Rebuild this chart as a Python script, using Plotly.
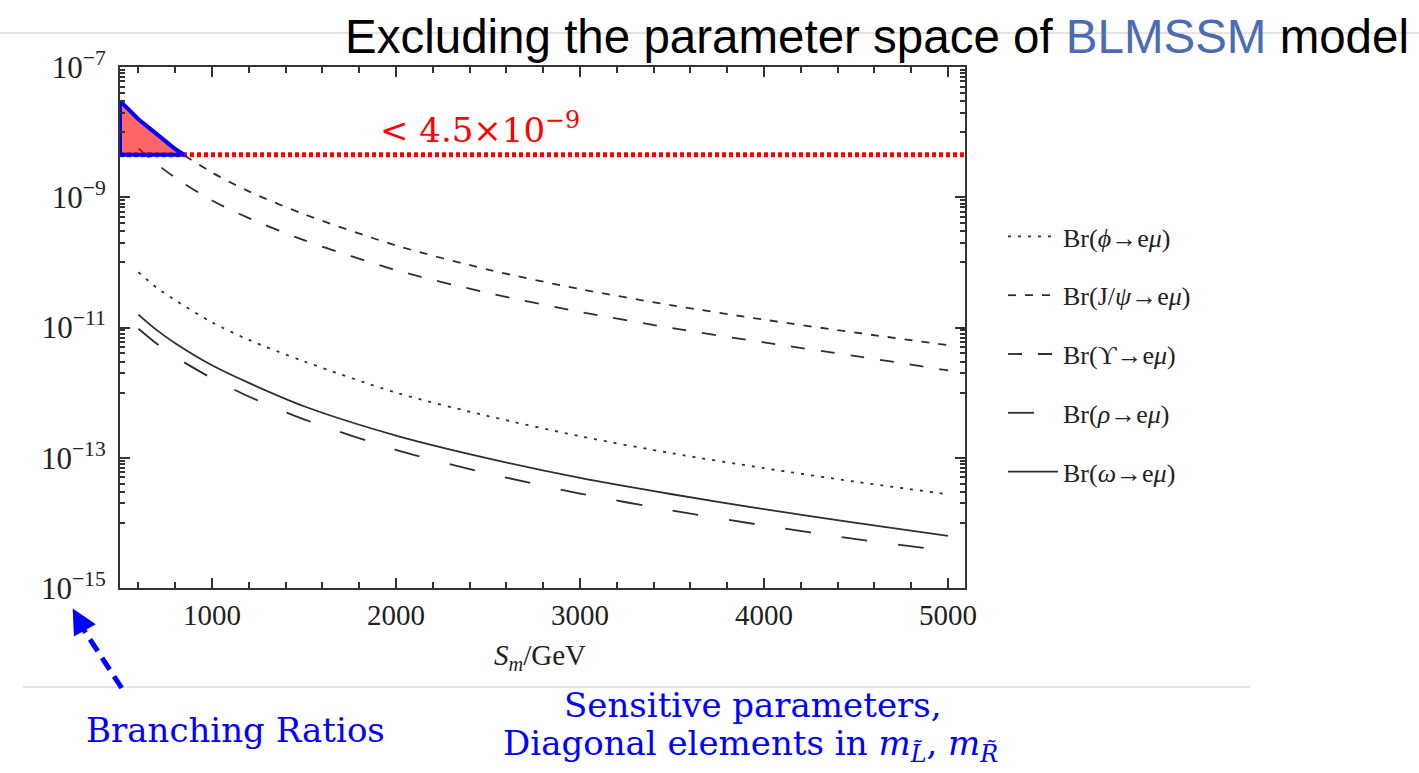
import numpy as np
import plotly.graph_objects as go

# Slepton soft mass S_m in GeV
s_m = [600, 700, 800, 1000, 1200, 1500, 2000, 2500, 3000, 3500, 4000, 4500, 5000]
# the J/psi curve also runs along the excluded strip down to 500 GeV
s_m_jpsi = [500, 600, 700, 800, 1000, 1200, 1500, 2000, 2500, 3000, 3500, 4000, 4500, 5000]

# Branching ratios of V -> e mu
br_phi = [7.08e-11, 4.07e-11, 2.63e-11, 1.20e-11, 6.46e-12, 3.02e-12, 1.00e-12,
          4.37e-13, 2.14e-13, 1.17e-13, 6.92e-14, 4.27e-14, 2.75e-14]
br_jpsi = [3.02e-8, 1.58e-8, 9.33e-9, 5.50e-9, 2.40e-9, 1.23e-9, 5.50e-10,
           1.82e-10, 7.76e-11, 3.89e-11, 2.19e-11, 1.32e-11, 8.32e-12, 5.37e-12]
br_upsilon = [5.62e-9, 3.24e-9, 2.00e-9, 8.91e-10, 4.79e-10, 2.19e-10, 7.59e-11,
              3.39e-11, 1.74e-11, 9.77e-12, 5.89e-12, 3.63e-12, 2.19e-12]
br_rho = [9.55e-12, 5.62e-12, 3.55e-12, 1.66e-12, 8.71e-13, 3.89e-13, 1.32e-13,
          5.75e-14, 2.82e-14, 1.55e-14, 9.12e-15, 5.62e-15, 3.72e-15]
br_omega = [1.58e-11, 9.12e-12, 5.75e-12, 2.63e-12, 1.41e-12, 6.17e-13, 2.19e-13,
            9.77e-14, 4.90e-14, 2.75e-14, 1.62e-14, 1.00e-14, 6.31e-15]

# experimental upper bound on Br(J/psi -> e mu)
BR_LIMIT = 4.5e-9

# axis ticks
x_range = [500, 5092]
x_tickvals = [1000, 2000, 3000, 4000, 5000]
x_minor = [600, 800, 1200, 1400, 1600, 1800, 2200, 2400, 2600, 2800, 3200, 3400,
           3600, 3800, 4200, 4400, 4600, 4800]
y_exponents = [-15, -13, -11, -9, -7]
y_tickvals = [10.0 ** e for e in y_exponents]
y_ticktext = ["10<sup>\u2212%d</sup>" % (-e) for e in y_exponents]
y_minor = [k * 10.0 ** (e - 1) for e in (-7, -9, -11, -13) for k in range(1, 10)]

# plot-area geometry in pixels
W, H = 1419, 773
PLOT_L, PLOT_R, PLOT_T, PLOT_B = 120, 965, 67, 588


def px_x(p):
    return (p - PLOT_L) / (PLOT_R - PLOT_L)


def px_y(p):
    return (PLOT_B - p) / (PLOT_B - PLOT_T)


SERIF = "Liberation Serif"
CURVE = "#2e2e2e"

fig = go.Figure()

# bound line
fig.add_trace(go.Scatter(
    x=x_range, y=[BR_LIMIT, BR_LIMIT], mode="lines",
    line=dict(color="#ff0000", width=5, dash="4px,3px"),
    showlegend=False, hoverinfo="skip"))

# region where the J/psi curve exceeds the bound
lg = np.log10(br_jpsi)
lim = np.log10(BR_LIMIT)
i = int(np.where(lg < lim)[0][0])
frac = (lg[i - 1] - lim) / (lg[i - 1] - lg[i])
x_cross = s_m_jpsi[i - 1] + frac * (s_m_jpsi[i] - s_m_jpsi[i - 1])
tri_x = s_m_jpsi[:i] + [x_cross, s_m_jpsi[0], s_m_jpsi[0]]
tri_y = br_jpsi[:i] + [BR_LIMIT, BR_LIMIT, br_jpsi[0]]

series = [
    ("Br(<i>\u03d5</i>\u2192e<i>\u03bc</i>)", s_m, br_phi, "3px,7px"),
    ("Br(J/<i>\u03c8</i>\u2192e<i>\u03bc</i>)", s_m_jpsi, br_jpsi, "8px,9px"),
    ("Br(\u03d2\u2192e<i>\u03bc</i>)", s_m, br_upsilon, "14px,16px"),
    ("Br(<i>\u03c1</i>\u2192e<i>\u03bc</i>)", s_m, br_rho, "26px,31px"),
    ("Br(<i>\u03c9</i>\u2192e<i>\u03bc</i>)", s_m, br_omega, "solid"),
]
for k, (name, xs, ys, dash) in enumerate(series):
    fig.add_trace(go.Scatter(
        x=xs, y=ys, mode="lines", name=name, legendgroup="g%d" % k,
        line=dict(color=CURVE, width=1.8, dash=dash, shape="spline", smoothing=0.8)))

fig.add_trace(go.Scatter(
    x=tri_x, y=tri_y, mode="lines", fill="toself",
    fillcolor="rgba(255,0,0,0.6)", line=dict(color="#0000ff", width=4),
    showlegend=False, hoverinfo="skip"))

axis_common = dict(
    showline=True, linecolor="#333333", linewidth=2, mirror="ticks",
    ticks="inside", tickcolor="#333333", tickwidth=1.5, ticklen=10,
    showgrid=False, zeroline=False,
)

fig.update_xaxes(
    range=x_range, tickvals=x_tickvals, ticklabelstandoff=0,
    tickfont=dict(family=SERIF, size=29, color="#222222"),
    minor=dict(tickvals=x_minor, ticks="inside", ticklen=6, tickcolor="#333333",
               tickwidth=1.5, showgrid=False),
    **axis_common)
fig.update_yaxes(
    type="log", range=[-15, -7], tickvals=y_tickvals, ticktext=y_ticktext,
    ticklabelstandoff=6,
    tickfont=dict(family=SERIF, size=31, color="#222222"),
    minor=dict(tickvals=y_minor, ticks="inside", ticklen=5, tickcolor="#333333",
               tickwidth=1.5, showgrid=False),
    **axis_common)

annotations = [
    dict(x=px_x(343), y=px_y(37), xanchor="left", yanchor="middle",
         text="Excluding the parameter space of <span style='color:#4a6cb4'>BLMSSM</span> model",
         font=dict(family="Liberation Sans", size=47.5, color="#000000")),
    dict(x=px_x(378), y=px_y(128), xanchor="left", yanchor="middle",
         text="< 4.5\u00d710<sup>\u22129</sup>",
         font=dict(family="DejaVu Serif", size=34, color="#ff0000")),
    dict(x=px_x(540), y=px_y(657), xanchor="center", yanchor="middle",
         text="<i>S</i><sub><i>m</i></sub>/GeV",
         font=dict(family=SERIF, size=29, color="#222222")),
    dict(x=px_x(84), y=px_y(730), xanchor="left", yanchor="middle",
         text="Branching Ratios",
         font=dict(family="DejaVu Serif", size=34, color="#0000ff")),
    dict(x=px_x(753), y=px_y(705), xanchor="center", yanchor="middle",
         text="Sensitive parameters,",
         font=dict(family="DejaVu Serif", size=34, color="#0000ff")),
    dict(x=px_x(750), y=px_y(745), xanchor="center", yanchor="middle",
         text="Diagonal elements in <i>m</i><sub><i>L\u0303</i></sub>, <i>m</i><sub><i>R\u0303</i></sub>",
         font=dict(family="DejaVu Serif", size=34, color="#0000ff")),
    # arrow head
    dict(x=px_x(72.7), y=px_y(608.5), xref="paper", yref="paper", text="",
         showarrow=True, ax=10, ay=18, arrowhead=2, arrowsize=1,
         arrowwidth=5, arrowcolor="#0000ff", standoff=0),
]
for a in annotations:
    a.setdefault("xref", "paper")
    a.setdefault("yref", "paper")
    a.setdefault("showarrow", False)

shapes = [
    dict(type="line", xref="paper", yref="paper", x0=px_x(0), x1=px_x(W),
         y0=px_y(33), y1=px_y(33), line=dict(color="#c8c8c8", width=1)),
    dict(type="line", xref="paper", yref="paper", x0=px_x(23), x1=px_x(1250),
         y0=px_y(687), y1=px_y(687), line=dict(color="#c8c8c8", width=1)),
    dict(type="line", xref="paper", yref="paper", x0=px_x(121.7), x1=px_x(80),
         y0=px_y(688), y1=px_y(624), line=dict(color="#0000ff", width=5, dash="14px,8px")),
]

fig.update_layout(
    width=W, height=H,
    margin=dict(l=PLOT_L, r=W - PLOT_R, t=PLOT_T, b=H - PLOT_B, pad=0),
    plot_bgcolor="white", paper_bgcolor="white",
    annotations=annotations, shapes=shapes,
    legend=dict(x=px_x(1003), y=px_y(213), xanchor="left", yanchor="top",
                font=dict(family=SERIF, size=26, color="#222222"),
                itemwidth=50, tracegroupgap=22, bgcolor="rgba(0,0,0,0)"),
)

fig.write_html("out.html")
